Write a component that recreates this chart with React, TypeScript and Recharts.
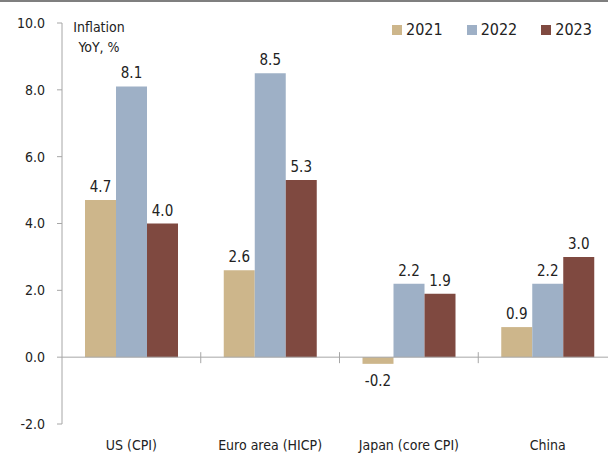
import React from "react";
import { BarChart, Bar, XAxis, YAxis, ReferenceLine, LabelList, Legend } from "recharts";

const categories = ["US (CPI)", "Euro area (HICP)", "Japan (core CPI)", "China"];
const infl2021 = [4.7, 2.6, -0.2, 0.9];
const infl2022 = [8.1, 8.5, 2.2, 2.2];
const infl2023 = [4.0, 5.3, 1.9, 3.0];
const yTicks = [-2, 0, 2, 4, 6, 8, 10];

const series = [
  { key: "y2021", name: "2021", color: "#CDB68B" },
  { key: "y2022", name: "2022", color: "#9EB0C6" },
  { key: "y2023", name: "2023", color: "#7F4940" },
];

const data = categories.map((name, i) => ({
  name,
  y2021: infl2021[i],
  y2022: infl2022[i],
  y2023: infl2023[i],
}));

const FONT = "'Liberation Sans Narrow', 'DejaVu Sans Condensed', 'Arial Narrow', sans-serif";
const AXIS = "#a6a6a6";

const ValueLabel = (p: any) => {
  const { x, y, width, height, value } = p;
  if (value == null) return null;
  const top = Math.min(y, y + height);
  const bottom = Math.max(y, y + height);
  const neg = value < 0;
  return (
    <text
      x={x + width / 2}
      y={neg ? bottom + 22 : top - 8}
      textAnchor="middle"
      fontSize={15}
      fill="#222"
      fontFamily={FONT}
    >
      {Number(value).toFixed(1)}
    </text>
  );
};

// zero line with the little category separators across it
const ZeroLine = (p: any) => {
  const { x1, y1, x2 } = p;
  const n = categories.length;
  const step = (x2 - x1) / n;
  const marks = [];
  for (let i = 1; i < n; i++) {
    const xx = x1 + step * i;
    marks.push(<line key={i} x1={xx} x2={xx} y1={y1 - 5} y2={y1 + 6} stroke={AXIS} strokeWidth={1} />);
  }
  return (
    <g>
      <line x1={x1} x2={x2} y1={y1} y2={y1} stroke={AXIS} strokeWidth={1} />
      {marks}
    </g>
  );
};

const LegendBox = () => (
  <div style={{ display: "flex", fontFamily: FONT, fontSize: 16, color: "#222" }}>
    {series.map((s) => (
      <div key={s.key} style={{ display: "flex", alignItems: "center", marginRight: 24 }}>
        <span style={{ width: 10, height: 10, background: s.color, marginRight: 4, display: "inline-block" }} />
        <span>{s.name}</span>
      </div>
    ))}
  </div>
);

export default function App() {
  return (
    <div
      style={{
        position: "absolute",
        left: 0,
        top: 0,
        width: 608,
        height: 455,
        overflow: "hidden",
        background: "#fff",
        fontFamily: FONT,
      }}
    >
      <div style={{ position: "absolute", left: 0, top: 0, width: 608, height: 2, background: "#7f7f7f" }} />
      <div
        style={{
          position: "absolute",
          left: 68,
          top: 17,
          width: 62,
          textAlign: "center",
          fontSize: 14,
          lineHeight: "20px",
          color: "#222",
          zIndex: 2,
        }}
      >
        Inflation
        <br />
        YoY, %
      </div>
      <BarChart
        width={617}
        height={455}
        data={data}
        margin={{ top: 23, right: 0, bottom: 0, left: 0 }}
        barGap={0}
        barSize={31}
      >
        <XAxis
          dataKey="name"
          axisLine={false}
          tickLine={false}
          height={31}
          tickSize={6}
          tickMargin={10}
          tick={{ fontSize: 14, fill: "#222", fontFamily: FONT }}
          interval={0}
        />
        <YAxis
          width={62}
          domain={[-2, 10]}
          ticks={yTicks}
          interval={0}
          tickFormatter={(v) => Number(v).toFixed(1)}
          tickSize={5}
          tickMargin={12}
          axisLine={{ stroke: AXIS }}
          tickLine={{ stroke: AXIS }}
          tick={{ fontSize: 14, fill: "#222", fontFamily: FONT }}
        />
        <ReferenceLine y={0} shape={<ZeroLine />} ifOverflow="extendDomain" />
        <Legend
          layout="vertical"
          verticalAlign="middle"
          align="center"
          content={<LegendBox />}
          wrapperStyle={{ top: 20, left: 392, width: "auto", height: "auto" }}
        />
        {series.map((s) => (
          <Bar key={s.key} dataKey={s.key} name={s.name} fill={s.color} isAnimationActive={false}>
            <LabelList dataKey={s.key} content={<ValueLabel />} />
          </Bar>
        ))}
      </BarChart>
    </div>
  );
}
